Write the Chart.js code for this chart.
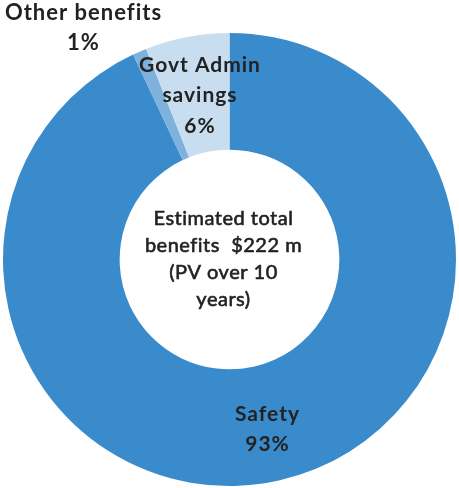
<!DOCTYPE html>
<html>
<head>
<meta charset="utf-8">
<script src="https://cdn.jsdelivr.net/npm/chart.js@4.4.0/dist/chart.umd.min.js"></script>
<style>
  html, body { margin: 0; padding: 0; background: #fff; }
  #wrap { position: relative; width: 459px; height: 488px; }
</style>
</head>
<body>
<div id="wrap"><canvas id="myChart" width="459" height="488"></canvas></div>
<script>
'use strict';

// chart data
let categories = ['Safety', 'Other benefits', 'Govt Admin savings'];
let shares = [93, 1, 6];
let sliceColors = ['#3a8bcb', '#7eb1dc', '#c9ddf0'];
let centerLines = ['Estimated total', 'benefits  $222 m', '(PV over 10', 'years)'];

// labels are split over lines like the original layout
let labelLines = [
  ['Safety', '93%'],
  ['Other benefits', '1%'],
  ['Govt Admin', 'savings', '6%']
];

const textColor = '#222222';
const fontFamily = 'Lato, "Open Sans", sans-serif';

// draws slice labels and the text in the hole
let labelPlugin = {
  id: 'sliceLabels',
  afterDatasetsDraw(chart) {
    let ctx = chart.ctx;
    let meta = chart.getDatasetMeta(0);
    let arc0 = meta.data[0];
    let cx = arc0.x;
    let cy = arc0.y;

    ctx.save();
    ctx.fillStyle = textColor;
    ctx.strokeStyle = textColor;
    ctx.textAlign = 'center';
    ctx.textBaseline = 'middle';

    for (let i = 0; i < meta.data.length; i++) {
      let arc = meta.data[i];
      let lines = labelLines[i];
      let x, y;
      ctx.font = 'bold 21px ' + fontFamily;
      ctx.letterSpacing = '1px';
      if (i === 1) {
        // tiny slice: label sits outside, up and to the left
        x = cx - 146;
        y = cy - 232;
        ctx.font = 'bold 22px ' + fontFamily;
      } else {
        let mid = (arc.startAngle + arc.endAngle) / 2;
        let r = (arc.innerRadius + arc.outerRadius) / 2 + (i === 0 ? 6 : 0);
        x = cx + Math.cos(mid) * r;
        y = cy + Math.sin(mid) * r;
      }
      let lh = i === 1 ? 30 : 30.5;
      let top = y - (lines.length - 1) * lh / 2;
      if (i === 2) top = y - lh + 1;
      for (let j = 0; j < lines.length; j++) {
        ctx.fillText(lines[j], x + (i === 2 ? 2 : 0), top + j * lh);
      }
    }

    // centre text
    ctx.font = '20px ' + fontFamily;
    ctx.letterSpacing = '0.5px';
    ctx.lineWidth = 0.6;
    let lh = 27;
    let top = cy - 41;
    for (let j = 0; j < centerLines.length; j++) {
      ctx.fillText(centerLines[j], cx - 6, top + j * lh);
      ctx.strokeText(centerLines[j], cx - 6, top + j * lh);
    }
    ctx.restore();
  }
};

let config = {
  type: 'doughnut',
  data: {
    labels: categories,
    datasets: [{
      data: shares,
      backgroundColor: sliceColors,
      borderWidth: 0
    }]
  },
  options: {
    responsive: false,
    animation: false,
    cutout: '48.5%',
    layout: {
      padding: { top: 32, bottom: 1, left: 3, right: 3 }
    },
    plugins: {
      legend: { display: false },
      tooltip: { enabled: false }
    }
  },
  plugins: [labelPlugin]
};

const ctx = document.getElementById('myChart').getContext('2d');
const myChart = new Chart(ctx, config);
</script>
</body>
</html>
